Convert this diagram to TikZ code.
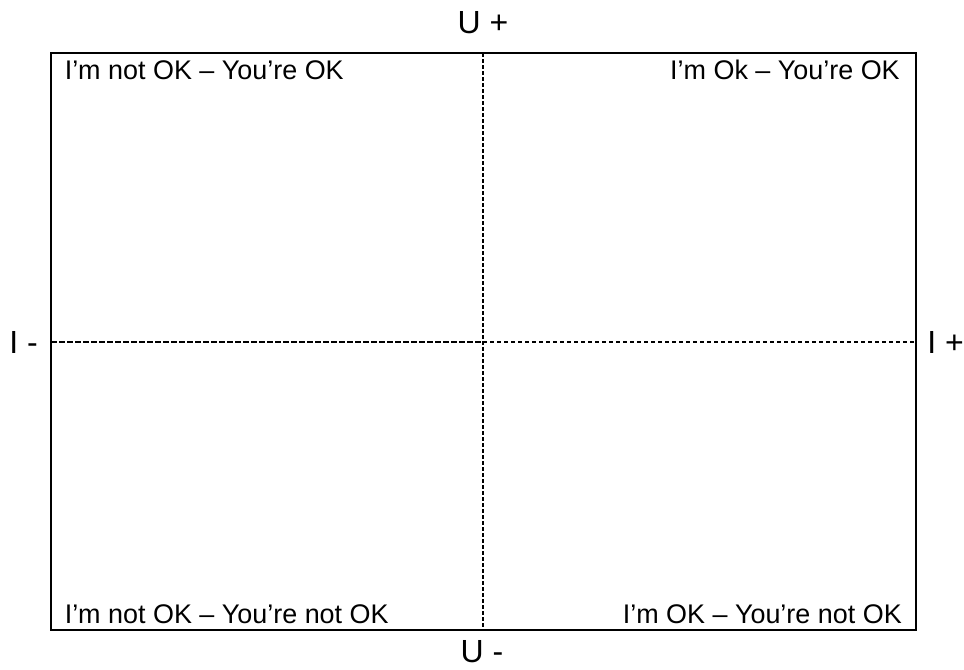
\documentclass[tikz,border=0pt]{standalone}
\usepackage{fontspec}
\setmainfont{Liberation Sans}
\begin{document}
\begin{tikzpicture}[x=0.75pt,y=-0.75pt,
  quad/.style={inner sep=0pt,font=\fontsize{20.2pt}{24pt}\selectfont},
  axislabel/.style={inner sep=0pt,font=\fontsize{24pt}{29pt}\selectfont},
  frame/.style={line width=1.5pt},
  divider/.style={line width=1.8pt}]
\useasboundingbox (0,0) rectangle (964,669);
\coordinate (tl) at (51,53);
\coordinate (br) at (916,630);
\coordinate (vt) at (483,53);
\coordinate (vb) at (483,630);
\coordinate (hl) at (51,342);
\coordinate (hc) at (483,342);
\coordinate (hr) at (916,342);
\draw[divider,dash pattern=on 4.5pt off 1.5pt] (hl) -- (hc);
\draw[divider,dash pattern=on 3pt off 2.25pt] (hc) -- (hr);
\draw[divider,dash pattern=on 3pt off 1.5pt] (vt) -- (vb);
\draw[frame] (tl) rectangle (br);
\node[quad,anchor=base west] (q1) at (64.5,79) {I’m not OK – You’re OK};
\node[quad,anchor=base east] (q2) at (900,79) {I’m Ok – You’re OK};
\node[quad,anchor=base west] (q3) at (64.5,623) {I’m not OK – You’re not OK};
\node[quad,anchor=base east] (q4) at (902,623) {I’m OK – You’re not OK};
\node[axislabel,anchor=base] (up) at (483,33) {U +};
\node[axislabel,anchor=base] (um) at (482,662) {U -};
\node[axislabel,anchor=base west] (im) at (9,353) {I -};
\node[axislabel,anchor=base west] (ip) at (927,353) {I +};
\end{tikzpicture}
\end{document}
